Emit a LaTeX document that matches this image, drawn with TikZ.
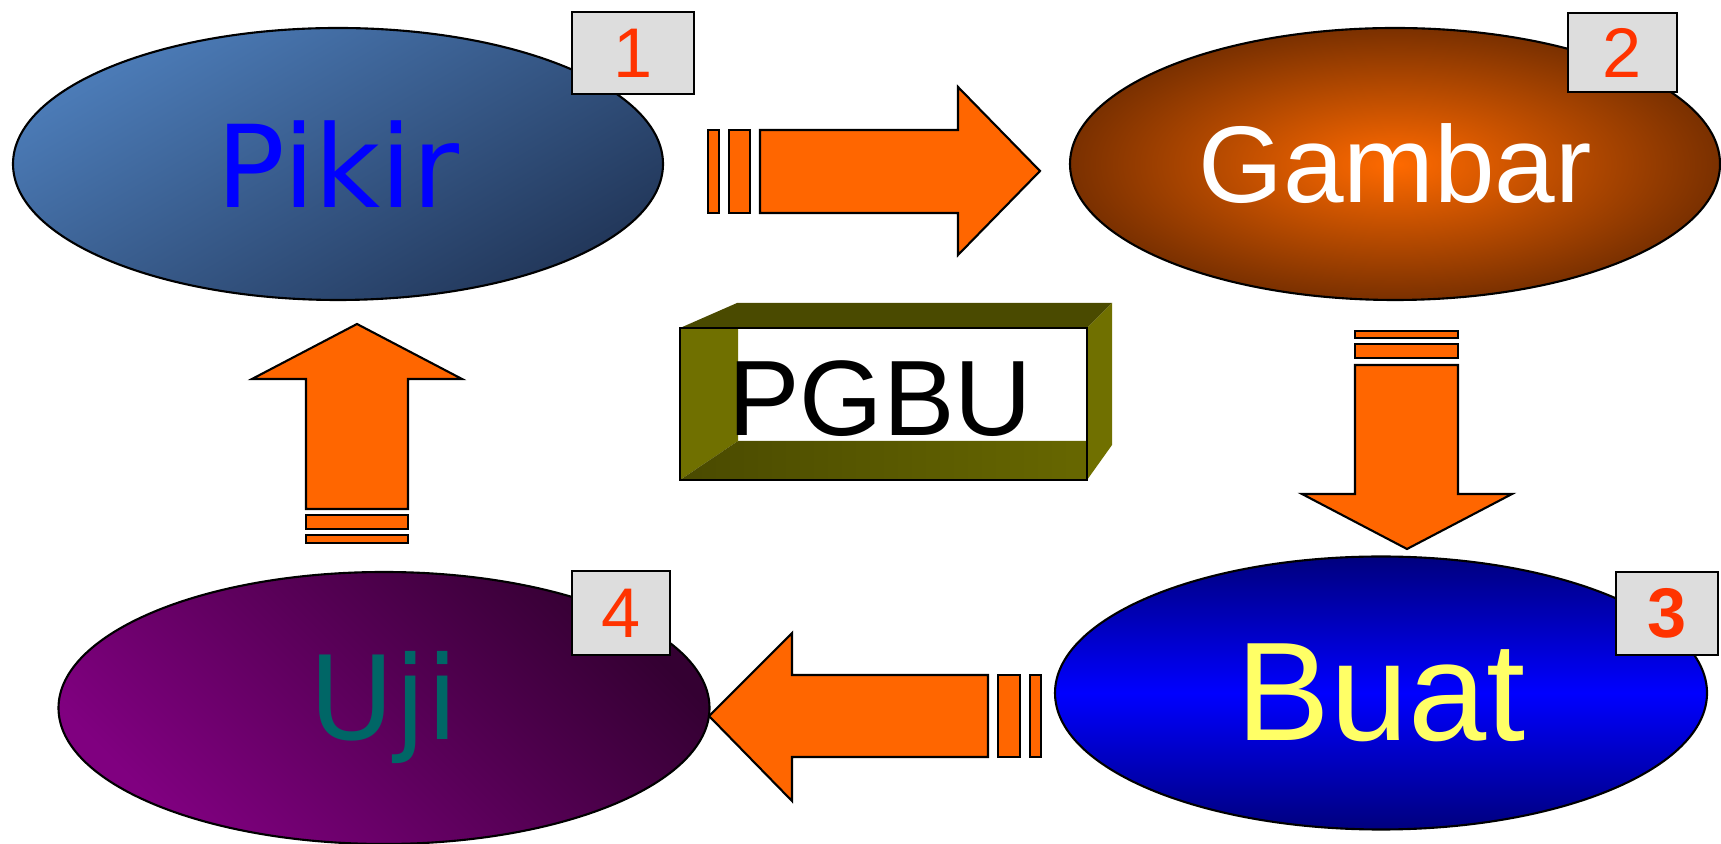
\documentclass[tikz,border=0pt]{standalone}
\usepackage{fontspec}
\setmainfont{Liberation Sans}
\newfontfamily\stagefont{DejaVu Sans}
\usetikzlibrary{shapes.geometric}

\definecolor{pikirlight}{HTML}{4C7CB8}
\definecolor{pikirdark}{HTML}{22375A}
\definecolor{gambarin}{HTML}{FF6A00}
\definecolor{gambarout}{HTML}{7A3000}
\definecolor{buatmid}{HTML}{0000FF}
\definecolor{buatedge}{HTML}{00007E}
\definecolor{ujilight}{HTML}{800080}
\definecolor{ujidark}{HTML}{340032}
\definecolor{ujitext}{HTML}{006666}
\definecolor{buattext}{HTML}{FFFF66}
\definecolor{badgegray}{HTML}{DDDDDD}
\definecolor{badgered}{HTML}{FF3300}
\definecolor{arroworange}{HTML}{FF6600}
\definecolor{olivelight}{HTML}{707000}
\definecolor{olivedark}{HTML}{4A4A00}

\tikzset{
    stage/.style={ellipse, draw, line width=0.6pt, minimum width=6.5cm, minimum height=2.72cm, inner sep=0pt},
    badge/.style={draw, line width=0.7pt, fill=badgegray, text=badgered, inner sep=0pt, font=\fontsize{20}{24}\selectfont},
    blockarrow/.style={draw, line width=0.6pt, fill=arroworange, line join=miter}
}

\begin{document}
\begin{tikzpicture}
                \useasboundingbox (0,0) rectangle (17.21,-8.44);

                \node[stage, top color=pikirlight, bottom color=pikirdark, shading angle=30, text=blue, font=\stagefont\fontsize{32.5}{36}\selectfont] (pikir) at (3.38,-1.64) {Pikir};
                \node[stage, inner color=gambarin, outer color=gambarout, text=white, font=\fontsize{31}{35}\selectfont] (gambar) at (13.95,-1.64) {Gambar};
                \node[stage, minimum width=6.52cm, minimum height=2.73cm, top color=buatedge, bottom color=buatedge, middle color=buatmid, text=buattext, font=\fontsize{40}{44}\selectfont] (buat) at (13.81,-6.93) {Buat};
                \node[stage, minimum width=6.51cm, top color=ujidark, bottom color=ujilight, shading angle=-45, text=ujitext, font=\stagefont\fontsize{33}{37}\selectfont] (uji) at (3.84,-7.08) {Uji};

                \node[badge, minimum width=1.22cm, minimum height=0.82cm] (no1) at (6.33,-0.53) {1};
                \node[badge, minimum width=1.09cm, minimum height=0.79cm] (no2) at (16.225,-0.525) {2};
                \node[badge, minimum width=1.02cm, minimum height=0.83cm, font=\fontsize{20}{24}\selectfont\bfseries] (no3) at (16.67,-6.135) {3};
                \node[badge, minimum width=0.98cm, minimum height=0.84cm] (no4) at (6.21,-6.13) {4};

                \draw[blockarrow] (7.08,-1.30) rectangle (7.19,-2.13);
                \draw[blockarrow] (7.29,-1.30) rectangle (7.50,-2.13);
                \draw[blockarrow] (10.40,-1.71) -- (9.58,-0.87) -- (9.58,-1.30) -- (7.60,-1.30) -- (7.60,-2.13) -- (9.58,-2.13) -- (9.58,-2.55) -- cycle;

                \draw[blockarrow] (13.55,-3.31) rectangle (14.58,-3.38);
                \draw[blockarrow] (13.55,-3.44) rectangle (14.58,-3.58);
                \draw[blockarrow] (14.07,-5.49) -- (15.12,-4.94) -- (14.58,-4.94) -- (14.58,-3.65) -- (13.55,-3.65) -- (13.55,-4.94) -- (13.02,-4.94) -- cycle;

                \draw[blockarrow] (10.30,-6.75) rectangle (10.41,-7.57);
                \draw[blockarrow] (9.98,-6.75) rectangle (10.20,-7.57);
                \draw[blockarrow] (7.09,-7.16) -- (7.92,-6.33) -- (7.92,-6.75) -- (9.88,-6.75) -- (9.88,-7.57) -- (7.92,-7.57) -- (7.92,-8.01) -- cycle;

                \draw[blockarrow] (3.06,-5.35) rectangle (4.08,-5.43);
                \draw[blockarrow] (3.06,-5.15) rectangle (4.08,-5.29);
                \draw[blockarrow] (3.57,-3.24) -- (4.62,-3.79) -- (4.08,-3.79) -- (4.08,-5.09) -- (3.06,-5.09) -- (3.06,-3.79) -- (2.52,-3.79) -- cycle;

                \fill[olivedark] (6.80,-3.28) -- (7.37,-3.03) -- (11.12,-3.03) -- (10.87,-3.28) -- cycle;
                \fill[olivelight] (10.87,-3.28) -- (11.12,-3.03) -- (11.12,-4.45) -- (10.87,-4.80) -- cycle;
                \fill[olivelight] (6.80,-3.28) -- (7.38,-3.28) -- (7.38,-4.41) -- (6.80,-4.80) -- cycle;
                \shade[left color=olivedark, right color=olivelight!92!black] (6.80,-4.80) -- (7.38,-4.41) -- (10.86,-4.41) -- (10.87,-4.80) -- cycle;
                \draw[line width=0.6pt] (6.80,-3.28) rectangle (10.87,-4.80);
                \node[font=\fontsize{30.5}{34}\selectfont] (pgbu) at (8.80,-3.99) {PGBU};
\end{tikzpicture}
\end{document}
